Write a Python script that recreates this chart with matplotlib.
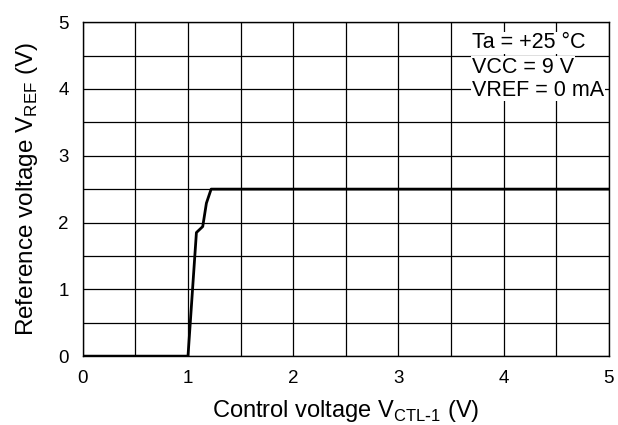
import matplotlib
matplotlib.use("Agg")
import numpy as np
from matplotlib import pyplot as plt

plt.rcParams['font.family'] = ['Liberation Sans', 'DejaVu Sans']

# control voltage (V) vs reference voltage (V)
v_ctl = [0.0, 1.0, 1.08, 1.14, 1.175, 1.22, 5.0]
v_ref = [0.0, 0.0, 1.85, 1.94, 2.29, 2.5, 2.5]

conditions = ["Ta = +25 \u00b0C", "VCC = 9 V", "VREF = 0 mA"]
ticks = [0, 1, 2, 3, 4, 5]

fig, ax = plt.subplots(figsize=(6.18, 4.25), dpi=100)
fig.subplots_adjust(left=0.134, right=0.985, top=0.948, bottom=0.162)

ax.plot(v_ctl, v_ref, color='black', linewidth=2, zorder=3)

ax.set_xlim(0, 5)
ax.set_ylim(0, 5)
ax.set_xticks(ticks)
ax.set_yticks(ticks)
ax.set_xticks(np.arange(0, 5.01, 0.5), minor=True)
ax.set_yticks(np.arange(0, 5.01, 0.5), minor=True)
ax.grid(True, which='both', color='black', linewidth=0.9)
ax.tick_params(which='both', length=0, labelsize=13.5)
ax.tick_params(axis='x', pad=10)
ax.tick_params(axis='y', pad=10)
for s in ax.spines.values():
    s.set_linewidth(1)

ax.set_xlabel(r"Control voltage V$_{\mathregular{CTL\text{-}1}}$ (V)", fontsize=17, labelpad=8)
ax.set_ylabel(r"Reference voltage V$_{\mathregular{REF}}$ (V)", fontsize=17.5, labelpad=13)

ys = [4.69, 4.32, 3.98]
for txt, y in zip(conditions, ys):
    ax.text(3.7, y, txt, fontsize=15.5, va='center', ha='left', zorder=4,
            bbox=dict(facecolor='white', edgecolor='none', pad=0.5))

fig.savefig('out.png', dpi=100)
